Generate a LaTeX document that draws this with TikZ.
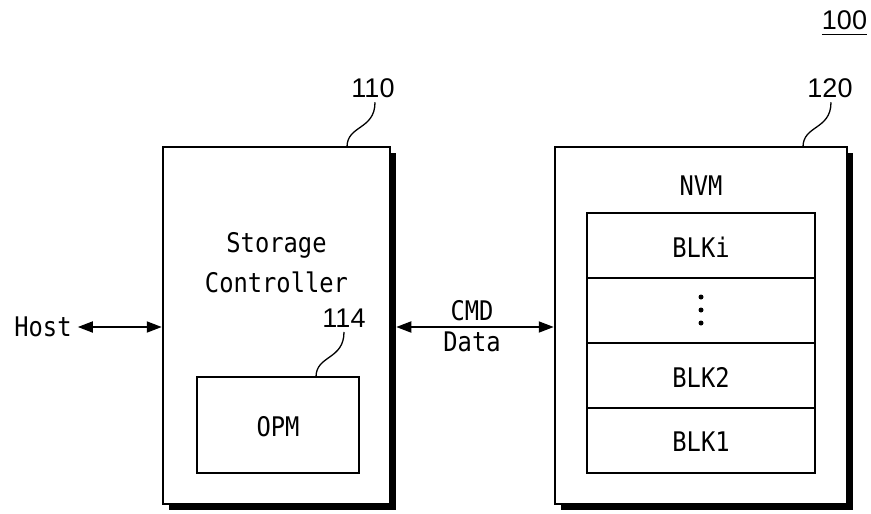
\documentclass[tikz,border=0pt]{standalone}
\usepackage{fontspec}
\setmainfont{DejaVu Sans Mono}[FakeStretch=0.88]
\newfontfamily\numfont{Liberation Sans}
\usetikzlibrary{arrows.meta,shadows}
\tikzset{
  outerbox/.style={draw, line width=2.5pt, fill=white, rectangle, inner sep=0pt,
    general shadow={fill=black, shadow xshift=6pt, shadow yshift=-6pt}},
  innerbox/.style={draw, line width=1.8pt, fill=white, rectangle, inner sep=0pt},
  maintext/.style={inner sep=0pt, font={\fontsize{27}{30}\selectfont}},
  reflabel/.style={inner sep=0pt, font={\numfont\fontsize{27}{30}\selectfont}},
  leader/.style={line width=1.3pt},
  biarrow/.style={line width=1.8pt, {Triangle[length=15pt,width=11pt]}-{Triangle[length=15pt,width=11pt]}},
  blackdot/.style={circle, fill=black, inner sep=0pt, minimum size=5pt}
}
\begin{document}
\begin{tikzpicture}[x=1pt,y=-1pt]
\useasboundingbox (0,0) rectangle (871,514);
% outer boxes
\node[outerbox, minimum width=227pt, minimum height=357pt] (sc) at (276.5,325.5) {};
\node[outerbox, minimum width=292pt, minimum height=357pt] (nvm) at (701,325.5) {};
% storage controller
\node[maintext] (st1) at (276.5,245) {Storage};
\node[maintext] (st2) at (276.5,282) {Controller};
\node[innerbox, minimum width=162pt, minimum height=96pt] (opm) at (278,425) {};
\node[maintext] (opmt) at (278,427) {OPM};
% NVM
\node[maintext] (nvmt) at (701,186) {NVM};
\node[innerbox, minimum width=228pt, minimum height=65pt] (b1) at (701,245.5) {};
\node[innerbox, minimum width=228pt, minimum height=65pt] (b2) at (701,310.5) {};
\node[innerbox, minimum width=228pt, minimum height=65pt] (b3) at (701,375.5) {};
\node[innerbox, minimum width=228pt, minimum height=65pt] (b4) at (701,440.5) {};
\node[maintext] (bi) at (701,247) {BLKi};
\node[blackdot] (d1) at (701,297) {};
\node[blackdot] (d2) at (701,310) {};
\node[blackdot] (d3) at (701,323) {};
\node[maintext] (bk2) at (701,377) {BLK2};
\node[maintext] (bk1) at (701,442) {BLK1};
% labels
\node[reflabel] (n100) at (844.5,20.5) {100};
\draw[line width=1.3pt] (n100.south west) ++(0,-4pt) coordinate (u1) -- (u1 -| n100.east);
\node[reflabel] (n110) at (373,88.5) {110};
\node[reflabel] (n120) at (830,88.5) {120};
\node[reflabel] (n114) at (344,318.5) {114};
\coordinate (l110) at (347,147);
\coordinate (l120) at (803,147);
\coordinate (l114) at (316,377);
\draw[leader] (l110) .. controls (347,125) and (375,130) .. ([yshift=-4pt]n110.south -| 375,0);
\draw[leader] (l120) .. controls (803,125) and (831,130) .. ([yshift=-4pt]n120.south -| 831,0);
\draw[leader] (l114) .. controls (316,355) and (344,360) .. ([yshift=-4pt]n114.south -| 344,0);
% host
\node[maintext] (host) at (43,327) {Host};
\draw[biarrow] ([xshift=6pt]host.east) -- (sc.west |- host.east);
% CMD / Data
\node[maintext] (cmd) at (472,311) {CMD};
\node[maintext] (data) at (472,342) {Data};
\draw[biarrow] ([xshift=5pt]sc.east |- host.east) -- (nvm.west |- host.east);
\end{tikzpicture}
\end{document}
